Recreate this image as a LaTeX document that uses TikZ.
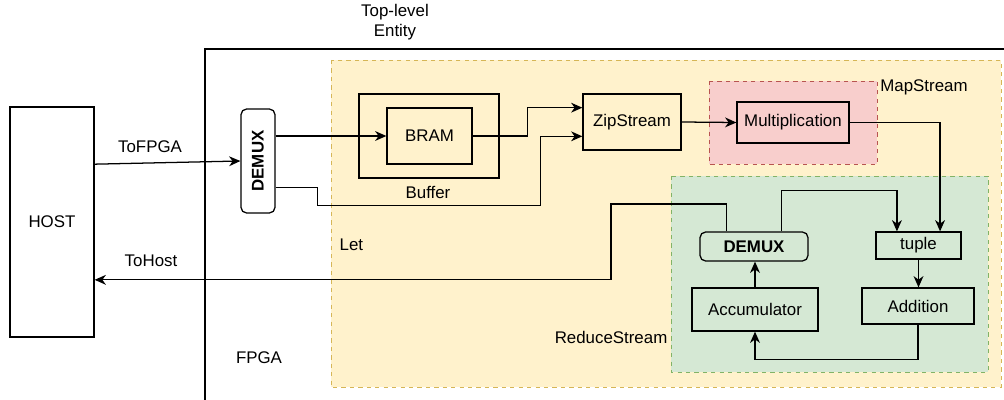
\documentclass[tikz,border=0pt]{standalone}
\usepackage{fontspec}
\setmainfont{Liberation Sans}
\usetikzlibrary{arrows.meta,positioning,calc}

\newcommand{\diagfont}{\fontsize{12}{14.4}\selectfont}
\definecolor{letfill}{HTML}{FFF2CC}
\definecolor{letline}{HTML}{D6B656}
\definecolor{mapfill}{HTML}{F8CECC}
\definecolor{mapline}{HTML}{B85450}
\definecolor{redfill}{HTML}{D5E8D4}
\definecolor{redline}{HTML}{82B366}

\tikzset{
  block/.style={draw, line width=0.9pt, inner sep=0pt, font=\diagfont, align=center},
  roundblock/.style={block, rounded corners=4pt},
  group/.style={draw, dashed, line width=0.7pt},
  lbl/.style={font=\diagfont, inner sep=1pt, align=center},
  conn/.style={line width=0.9pt, -{Stealth[length=8pt,width=7pt,inset=2.5pt]}},
}

\begin{document}
\begin{tikzpicture}[x=0.025cm, y=-0.025cm]
  \clip (0,0) rectangle (1004,400);

  % Containers
  \draw[line width=0.9pt] (205,49) rectangle (1030,430);
  \draw[group, draw=letline, fill=letfill] (331,60) rectangle (1001,387);
  \draw[group, draw=mapline, fill=mapfill] (709,81) rectangle (877,164);
  \draw[group, draw=redline, fill=redfill] (671,176) rectangle (988,372);
  \draw[line width=0.9pt] (359,94) rectangle (499,178);

  % Labels
  \node[lbl] (toplabel) at (395,22) {Top-level\\Entity};
  \node[lbl] (fpgalabel) at (259,358) {FPGA};
  \node[lbl, anchor=west] (letlabel) at (338,245) {Let};
  \node[lbl] (bufferlabel) at (428,192) {Buffer};
  \node[lbl] (maplabel) at (924,87) {MapStream};
  \node[lbl, anchor=east] (reducelabel) at (669,337) {ReduceStream};
  \node[lbl] (tofpga) at (150,147) {ToFPGA};
  \node[lbl] (tohost) at (151,261) {ToHost};

  % Host side
  \node[block, minimum width=2.1cm, minimum height=5.75cm] (host) at (52,222) {HOST};
  \node[roundblock, minimum width=0.85cm, minimum height=2.6cm] (demuxA) at (258,161)
       {\rotatebox{90}{\textbf{DEMUX}}};

  % Let body
  \node[block, minimum width=2.125cm, minimum height=1.4cm] (bram) at (429.5,136) {BRAM};
  \node[block, minimum width=2.45cm, minimum height=1.4cm] (zip) at (632,122) {ZipStream};
  \node[block, minimum width=2.8cm, minimum height=1.025cm] (mult) at (793,122.5) {Multiplication};

  % Reduce body
  \node[roundblock, minimum width=2.7cm, minimum height=0.725cm] (demuxB) at (754,246.5) {\textbf{DEMUX}};
  \node[block, minimum width=2.125cm, minimum height=0.675cm] (tuple) at (918.5,245.5) {tuple};
  \node[block, minimum width=3.15cm, minimum height=1.075cm] (acc) at (755,309.5) {Accumulator};
  \node[block, minimum width=2.8cm, minimum height=0.9cm] (add) at (918,306) {Addition};

  % Connectors
  \draw[conn] ($(host.north east)!0.25!(host.south east)$) -- (demuxA.west);
  \draw[conn] (bram.west -| demuxA.east) -- (bram.west);
  \draw[conn] (bram.east) -- ++(55,0) |- ($(zip.north west)!0.25!(zip.south west)$);
  \draw[conn] ($(demuxA.north east)!0.75!(demuxA.south east)$) -- ++(42,0) -- ++(0,18)
    -| ($(zip.north west)!0.75!(zip.south west)+(-42,0)$) -- ($(zip.north west)!0.75!(zip.south west)$);
  \draw[conn] (zip.east) -- (mult.west);
  \draw[conn] (mult.east) -| ($(tuple.north west)!0.75!(tuple.north east)$);
  \draw[conn] ($(demuxB.north west)!0.75!(demuxB.north east)$) -- ++(0,-41)
    -| ($(tuple.north west)!0.25!(tuple.north east)$);
  \coordinate (backbend) at (611,204);
  \draw[conn] ($(demuxB.north west)!0.25!(demuxB.north east)$) |- (backbend)
    |- ($(host.north east)!0.75!(host.south east)$);
  \draw[conn] (acc.north) -- (acc.north |- demuxB.south);
  \draw[conn] (tuple.south) -- (tuple.south |- add.north);
  \draw[conn] (add.south) -- ++(0,35) -| (acc.south);
\end{tikzpicture}
\end{document}
